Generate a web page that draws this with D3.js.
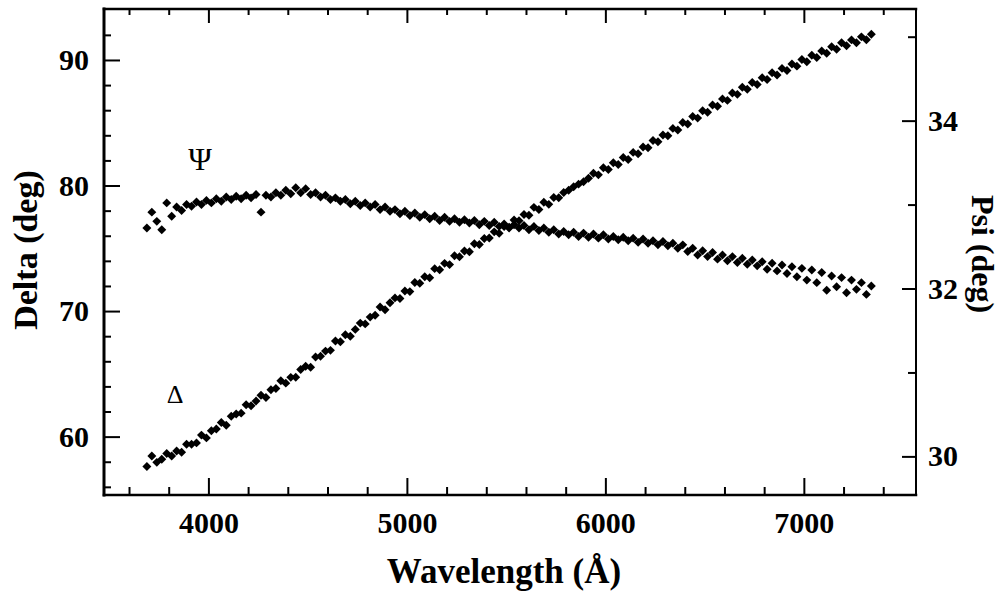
<!DOCTYPE html>
<html>
<head>
<meta charset="utf-8">
<script src="https://cdn.jsdelivr.net/npm/d3@7"></script>
<style>
  html, body { margin: 0; padding: 0; background: #fff; }
  svg { display: block; }
</style>
</head>
<body>
<svg id="chart" width="1005" height="591"></svg>
<script>
// Ellipsometric angles measured across the visible spectrum
const wavelength = [
  3690,3715,3740,3765,3790,3815,3840,3865,3890,3915,
  3940,3965,3990,4015,4040,4065,4090,4115,4140,4165,
  4190,4215,4240,4265,4290,4315,4340,4365,4390,4415,
  4440,4465,4490,4515,4540,4565,4590,4615,4640,4665,
  4690,4715,4740,4765,4790,4815,4840,4865,4890,4915,
  4940,4965,4990,5015,5040,5065,5090,5115,5140,5165,
  5190,5215,5240,5265,5290,5315,5340,5365,5390,5415,
  5440,5465,5490,5515,5540,5565,5590,5615,5640,5665,
  5690,5715,5740,5765,5790,5815,5840,5865,5890,5915,
  5940,5965,5990,6015,6040,6065,6090,6115,6140,6165,
  6190,6215,6240,6265,6290,6315,6340,6365,6390,6415,
  6440,6465,6490,6515,6540,6565,6590,6615,6640,6665,
  6690,6715,6740,6765,6790,6815,6840,6865,6890,6915,
  6940,6965,6990,7015,7040,7065,7090,7115,7140,7165,
  7190,7215,7240,7265,7290,7315,7340
];

// Delta (deg), left axis
const delta = [
  57.62,58.45,57.95,58.20,58.66,58.46,58.86,58.75,59.40,59.40,
  59.50,60.12,59.90,60.47,60.60,61.13,60.90,61.63,61.80,61.87,
  62.54,62.46,62.83,63.30,63.12,63.73,63.84,64.45,64.26,64.72,
  64.73,65.35,65.61,65.52,66.34,66.40,66.81,66.87,67.62,67.56,
  68.11,68.00,68.54,69.04,68.98,69.52,69.67,70.32,70.11,70.66,
  71.05,71.00,71.60,71.55,72.28,72.21,72.74,72.66,73.38,73.29,
  73.80,73.70,74.41,74.32,74.78,74.72,75.36,75.30,75.78,75.82,
  76.31,76.19,76.73,76.62,77.26,77.20,77.69,77.63,78.26,78.09,
  78.66,78.50,79.05,79.02,79.44,79.63,79.90,80.11,80.30,80.58,
  80.97,80.85,81.42,81.27,81.82,81.68,82.23,82.08,82.64,82.53,
  83.07,83.01,83.59,83.48,84.02,83.96,84.55,84.43,85.02,84.90,
  85.49,85.37,85.95,85.84,86.42,86.31,86.90,86.78,87.37,87.26,
  87.82,87.67,88.21,88.05,88.59,88.44,88.98,88.81,89.33,89.16,
  89.68,89.51,90.03,89.86,90.38,90.19,90.71,90.53,91.05,90.86,
  91.37,91.13,91.60,91.37,91.84,91.61,92.05
];

// Psi (deg), right axis
const psi = [
  32.72,32.91,32.80,32.70,33.02,32.86,32.97,32.93,33.00,32.98,
  33.03,33.00,33.05,33.02,33.07,33.04,33.09,33.06,33.10,33.07,
  33.11,33.08,33.12,32.91,33.11,33.09,33.14,33.11,33.17,33.13,
  33.20,33.14,33.19,33.12,33.14,33.09,33.11,33.06,33.08,33.04,
  33.06,33.01,33.04,32.99,33.02,32.97,33.00,32.94,32.97,32.92,
  32.94,32.89,32.92,32.87,32.90,32.85,32.88,32.83,32.86,32.81,
  32.85,32.80,32.83,32.79,32.82,32.78,32.81,32.76,32.80,32.75,
  32.79,32.74,32.77,32.73,32.76,32.72,32.75,32.70,32.74,32.69,
  32.72,32.67,32.70,32.65,32.68,32.64,32.67,32.62,32.66,32.61,
  32.65,32.60,32.64,32.59,32.62,32.58,32.61,32.57,32.60,32.55,
  32.59,32.54,32.57,32.52,32.56,32.51,32.54,32.48,32.52,32.44,
  32.48,32.40,32.45,32.38,32.43,32.35,32.40,32.33,32.38,32.31,
  32.36,32.29,32.34,32.27,32.32,32.23,32.30,32.21,32.28,32.18,
  32.26,32.14,32.24,32.10,32.22,32.07,32.19,31.98,32.15,32.02,
  32.13,31.95,32.10,31.99,32.07,31.93,32.03
];

// Tick values
const xMajorTicks = [4000, 5000, 6000, 7000];
const xMinorTicks = [3600, 3800, 4200, 4400, 4600, 4800, 5200, 5400, 5600, 5800,
                     6200, 6400, 6600, 6800, 7200, 7400];
const deltaMajorTicks = [60, 70, 80, 90];
const deltaMinorTicks = [56, 58, 62, 64, 66, 68, 72, 74, 76, 78, 82, 84, 86, 88, 92];
const psiMajorTicks = [30, 32, 34];
const psiMinorTicks = [31, 33, 35];

const svg = d3.select('#chart');
const frame = { left: 104, right: 916, top: 9, bottom: 495 };
const serif = '"Liberation Serif", "Times New Roman", serif';

const x = d3.scaleLinear().domain([3474, 7565]).range([frame.left, frame.right]);
const yDelta = d3.scaleLinear().domain([55.35, 94.06]).range([frame.bottom, frame.top]);
const yPsi = d3.scaleLinear().domain([29.54, 35.33]).range([frame.bottom, frame.top]);

function drawAxis(axis, tx, ty) {
  const g = svg.append('g')
    .attr('transform', `translate(${tx},${ty})`)
    .call(axis);
  g.select('.domain').remove();
  g.selectAll('.tick line').attr('stroke', '#000').attr('stroke-width', 2);
  g.attr('font-family', serif).attr('font-size', 30).attr('font-weight', 'bold');
  g.selectAll('.tick text').attr('fill', '#000');
  return g;
}

// Ticks point inward on all four sides
drawAxis(d3.axisBottom(x).tickValues(xMajorTicks).tickSizeInner(-17).tickSizeOuter(0)
  .tickPadding(17).tickFormat(d3.format('d')), 0, frame.bottom);
drawAxis(d3.axisBottom(x).tickValues(xMinorTicks).tickSizeInner(-8).tickSizeOuter(0)
  .tickFormat(''), 0, frame.bottom);
drawAxis(d3.axisTop(x).tickValues(xMajorTicks).tickSizeInner(-14).tickSizeOuter(0)
  .tickFormat(''), 0, frame.top);
drawAxis(d3.axisTop(x).tickValues(xMinorTicks).tickSizeInner(-6).tickSizeOuter(0)
  .tickFormat(''), 0, frame.top);

drawAxis(d3.axisLeft(yDelta).tickValues(deltaMajorTicks).tickSizeInner(-16).tickSizeOuter(0)
  .tickPadding(15).tickFormat(d3.format('d')), frame.left, 0);
drawAxis(d3.axisLeft(yDelta).tickValues(deltaMinorTicks).tickSizeInner(-7).tickSizeOuter(0)
  .tickFormat(''), frame.left, 0);

drawAxis(d3.axisRight(yPsi).tickValues(psiMajorTicks).tickSizeInner(-14).tickSizeOuter(0)
  .tickPadding(12).tickFormat(d3.format('d')), frame.right, 0);
drawAxis(d3.axisRight(yPsi).tickValues(psiMinorTicks).tickSizeInner(-8).tickSizeOuter(0)
  .tickFormat(''), frame.right, 0);

// Plot frame
const border = svg.append('g').attr('stroke', '#000').attr('stroke-linecap', 'square');
border.append('line').attr('x1', frame.left).attr('x2', frame.left)
  .attr('y1', frame.top).attr('y2', frame.bottom).attr('stroke-width', 3);
border.append('line').attr('x1', frame.left).attr('x2', frame.right)
  .attr('y1', frame.top).attr('y2', frame.top).attr('stroke-width', 2.5);
border.append('line').attr('x1', frame.right).attr('x2', frame.right)
  .attr('y1', frame.top).attr('y2', frame.bottom).attr('stroke-width', 2);
border.append('line').attr('x1', frame.left).attr('x2', frame.right)
  .attr('y1', frame.bottom).attr('y2', frame.bottom).attr('stroke-width', 2.5);

// Diamond markers
const marker = d3.symbol().type(d3.symbolSquare).size(40);
const deltaPts = wavelength.map((w, i) => ({ w, v: delta[i] }));
const psiPts = wavelength.map((w, i) => ({ w, v: psi[i] }));

svg.append('g').selectAll('path').data(deltaPts).join('path')
  .attr('d', marker)
  .attr('transform', d => `translate(${x(d.w)},${yDelta(d.v)}) rotate(45)`)
  .attr('fill', '#000');

svg.append('g').selectAll('path').data(psiPts).join('path')
  .attr('d', marker)
  .attr('transform', d => `translate(${x(d.w)},${yPsi(d.v)}) rotate(45)`)
  .attr('fill', '#000');

// Curve labels
svg.append('text').attr('x', 200).attr('y', 170).attr('text-anchor', 'middle')
  .attr('font-family', serif).attr('font-size', 32).text('Ψ');
svg.append('text').attr('x', 175).attr('y', 403).attr('text-anchor', 'middle')
  .attr('font-family', serif).attr('font-size', 26).text('Δ');

// Axis titles
svg.append('text').attr('x', 504).attr('y', 583).attr('text-anchor', 'middle')
  .attr('font-family', serif).attr('font-size', 35).attr('font-weight', 'bold')
  .text('Wavelength (Å)');
svg.append('text').attr('transform', 'translate(37,250) rotate(-90)').attr('text-anchor', 'middle')
  .attr('font-family', serif).attr('font-size', 34).attr('font-weight', 'bold')
  .text('Delta (deg)');
svg.append('text').attr('transform', 'translate(972,254) rotate(90)').attr('text-anchor', 'middle')
  .attr('font-family', serif).attr('font-size', 32).attr('font-weight', 'bold')
  .text('Psi (deg)');
</script>
</body>
</html>
